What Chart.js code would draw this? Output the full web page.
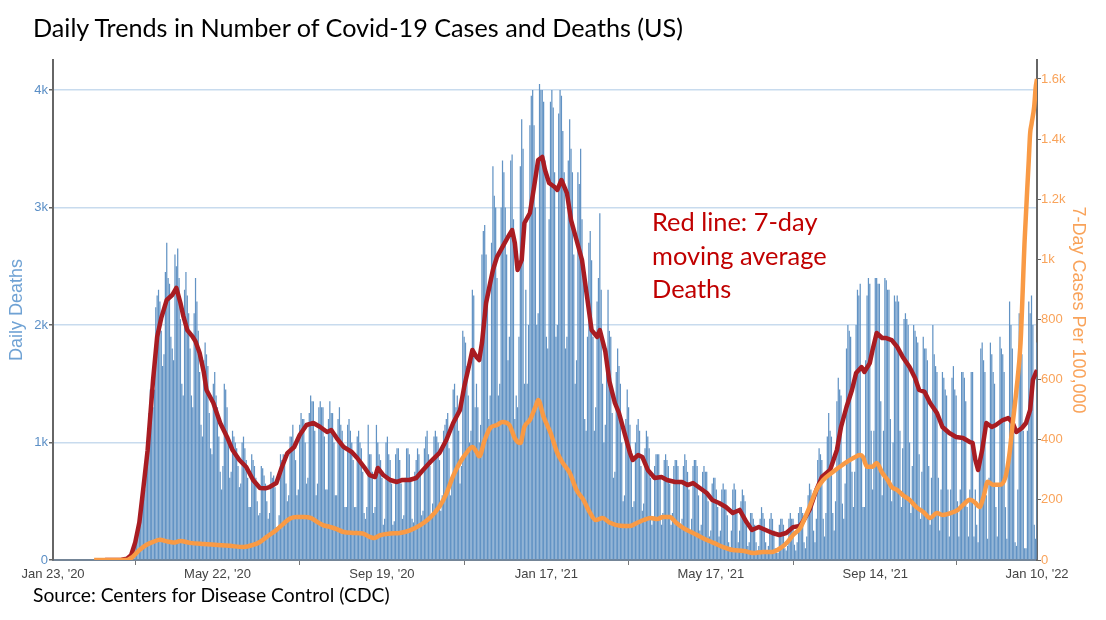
<!DOCTYPE html>
<html>
<head>
<meta charset="utf-8">
<script src="https://cdn.jsdelivr.net/npm/chart.js@4.4.1/dist/chart.umd.min.js"></script>
<style>
  body { margin: 0; background: #fff; }
  #wrap { position: relative; width: 1106px; height: 620px; }
  canvas { position: absolute; left: 0; top: 0; }
  .txt { position: absolute; font-family: Lato, 'Open Sans', sans-serif; white-space: nowrap; }
  #title { left: 33px; top: 12px; font-size: 25.2px; line-height: 30px; color: #000; }
  #note { left: 652px; top: 205px; font-size: 25.4px; line-height: 33.5px; color: #c00000; }
  #source { left: 33px; top: 583px; font-size: 19.3px; line-height: 24px; color: #000; }
</style>
</head>
<body>
<div id="wrap">
  <canvas id="chart" width="1106" height="620"></canvas>
  <div class="txt" id="title">Daily Trends in Number of Covid-19 Cases and Deaths (US)</div>
  <div class="txt" id="note">Red line: 7-day<br>moving average<br>Deaths</div>
  <div class="txt" id="source">Source: Centers for Disease Control (CDC)</div>
</div>
<script>
// --- Data ---
const START = '2020-01-23';
const tickDates = ['2020-01-23', '2020-05-22', '2020-09-19', '2021-01-17', '2021-05-17', '2021-09-14', '2022-01-10'];
const tickLabels = ["Jan 23, '20", "May 22, '20", "Sep 19, '20", "Jan 17, '21", "May 17, '21", "Sep 14, '21", "Jan 10, '22"];
const deathTicks = [0, 1000, 2000, 3000, 4000];
const caseTicks = [0, 200, 400, 600, 800, 1000, 1200, 1400, 1600];

// daily deaths, one row per week (Sun..Sat), first bar = Sun Mar 1 2020
const firstBarDate = '2020-03-01';
const dailyDeaths = [
  1, 1, 2, 3, 2, 3, 5,
  4, 6, 7, 9, 10, 14, 13,
  8, 12, 18, 25, 35, 55, 80,
  110, 140, 240, 290, 370, 440, 430,
  520, 600, 900, 1050, 1250, 1450, 1400,
  1300, 1450, 2150, 2250, 2300, 2200, 1950,
  1650, 1750, 2450, 2700, 2400, 2350, 1900,
  1800, 1700, 2600, 2500, 2650, 2400, 2050,
  1500, 1400, 2300, 2450, 2250, 2100, 1800,
  1400, 1300, 2100, 2400, 2200, 1950, 1600,
  1150, 1050, 1700, 1850, 1750, 1650, 1250,
  950, 900, 1500, 1600, 1400, 1300, 1050,
  750, 600, 800, 1500, 1450, 1300, 1000,
  700, 750, 1100, 1050, 1000, 950, 800,
  620, 650, 1000, 1050, 950, 850, 700,
  450, 450, 900, 850, 800, 700, 500,
  380, 400, 800, 780, 720, 650, 500,
  350, 400, 750, 700, 720, 620, 280,
  250, 380, 900, 850, 900, 850, 650,
  500, 550, 1050, 1050, 1150, 1000, 850,
  550, 600, 1150, 1250, 1200, 1200, 1000,
  650, 700, 1250, 1400, 1350, 1350, 1100,
  550, 650, 1300, 1350, 1300, 1300, 1050,
  600, 600, 1200, 1350, 1250, 1250, 1000,
  550, 550, 1200, 1300, 1150, 1100, 950,
  450, 450, 1150, 1200, 1100, 1000, 850,
  450, 450, 1050, 1100, 1000, 950, 750,
  400, 350, 450, 1150, 900, 900, 750,
  400, 450, 1150, 1000, 900, 850, 700,
  300, 350, 1000, 1050, 900, 850, 650,
  300, 330, 900, 950, 950, 850, 650,
  350, 380, 700, 950, 950, 900, 700,
  350, 320, 750, 850, 950, 900, 750,
  380, 420, 950, 1050, 1100, 900, 800,
  380, 480, 1050, 1100, 1050, 1000, 850,
  420, 550, 1100, 1150, 1200, 1250, 950,
  550, 700, 1450, 1500, 1300, 1400, 1100,
  650, 800, 1950, 1900, 1850, 1650, 1400,
  1000, 1100, 2300, 2250, 1300, 1500, 1300,
  1000, 1150, 2600, 2800, 2850, 2600, 2300,
  1200, 1400, 2700, 3350, 3100, 3000, 2400,
  1400, 1500, 3000, 3400, 3300, 3000, 2600,
  1700, 1900, 3400, 3450, 2900, 1200, 1400,
  1300, 1900, 3350, 3750, 3500, 1500, 2300,
  1500, 2000, 3700, 3950, 4000, 3700, 3000,
  2000, 2100, 4050, 4000, 4000, 3900, 3400,
  1900, 1800, 2900, 3900, 4000, 3850, 3300,
  1900, 2000, 3800, 4000, 3950, 3650, 3300,
  1800, 1900, 3400, 3750, 3500, 3300, 2600,
  1500, 1700, 3300, 3200, 3500, 2900, 2400,
  1200, 1100, 1900, 2700, 2800, 2550, 1900,
  1100, 1300, 2200, 2400, 2950, 2300, 1500,
  1000, 1150, 1800, 2300, 1950, 1900, 1250,
  700, 750, 1600, 1800, 1650, 1500, 1000,
  500, 550, 1200, 1450, 1300, 1150, 850,
  450, 500, 1000, 1150, 1200, 1100, 800,
  420, 480, 950, 1100, 1050, 950, 700,
  300, 350, 800, 900, 900, 900, 700,
  300, 400, 850, 900, 850, 800, 650,
  300, 400, 800, 850, 850, 800, 650,
  280, 350, 800, 900, 850, 750, 600,
  250, 350, 800, 850, 850, 800, 550,
  250, 300, 750, 800, 750, 750, 500,
  200, 250, 650, 700, 700, 600, 450,
  200, 250, 600, 650, 600, 600, 380,
  150, 100, 250, 600, 650, 600, 400,
  150, 250, 500, 600, 550, 500, 300,
  120, 150, 400, 400, 350, 300, 150,
  80, 120, 350, 450, 400, 350, 150,
  80, 120, 350, 400, 350, 250, 100,
  60, 60, 300, 350, 350, 300, 100,
  80, 120, 350, 400, 350, 350, 130,
  80, 150, 400, 450, 450, 400, 150,
  100, 200, 550, 650, 600, 550, 250,
  150, 350, 850, 950, 900, 850, 350,
  200, 400, 1050, 1250, 1100, 1050, 400,
  250, 500, 1350, 1550, 1450, 1400, 480,
  350, 650, 1800, 2000, 1950, 1900, 750,
  450, 750, 2000, 2300, 2250, 2350, 900,
  450, 450, 1700, 2250, 2400, 2350, 1100,
  600, 1100, 2400, 2400, 2350, 2350, 1350,
  550, 1100, 2400, 2380, 2300, 2300, 1200,
  500, 1000, 2250, 2200, 2250, 2200, 1100,
  450, 950, 2050, 2100, 2050, 2000, 1000,
  400, 800, 2000, 1950, 1900, 1850, 900,
  350, 750, 1900, 1800, 1800, 1700, 800,
  300, 700, 2000, 1750, 1650, 1600, 700,
  250, 600, 1600, 1550, 1450, 1400, 600,
  200, 600, 1550, 1650, 1450, 1400, 500,
  200, 600, 1600, 1600, 1550, 1350, 450,
  200, 600, 1600, 1600, 200, 600, 300,
  150, 800, 1800, 1850, 1700, 1600, 550,
  180, 700, 1850, 1750, 1600, 1500, 450,
  200, 650, 1900, 1800, 1750, 1600, 450,
  180, 750, 2200, 2000, 1800, 1150, 150,
  120, 600, 2100, 1900, 1750, 1100, 100,
  100, 1100, 2200, 2100, 2250, 2000, 300,
  180, 1850,
];

// 7-day moving average of deaths (days since Jan 23, 2020)
const avgDays = [
  38, 50, 54, 57, 60, 63, 66, 69, 73, 76,
  79, 83, 87, 90, 93, 95, 98, 102, 104, 107,
  110, 112, 117, 122, 127, 131, 136, 141, 146, 151,
  155, 158, 163, 167, 171, 176, 180, 185, 190, 195,
  200, 203, 207, 212, 218, 222, 227, 231, 235, 237,
  241, 246, 251, 255, 260, 265, 270, 275, 282, 287,
  292, 297, 300, 304, 306, 309, 311, 313, 316, 319,
  321, 324, 328, 332, 335, 337, 339, 342, 344, 348,
  351, 354, 357, 359, 362, 366, 368, 371, 375, 378,
  382, 386, 389, 393, 397, 399, 403, 406, 410, 413,
  417, 421, 423, 427, 430, 434, 439, 444, 448, 454,
  459, 463, 467, 472, 477, 481, 486, 491, 496, 501,
  506, 510, 515, 520, 525, 530, 535, 540, 545, 547,
  552, 557, 561, 567, 572, 575, 579, 583, 586, 590,
  592, 596, 598, 601, 605, 608, 612, 616, 620, 625,
  629, 632, 636, 640, 645, 649, 654, 659, 664, 669,
  671, 673, 675, 678, 681, 685, 688, 693, 697, 700,
  703, 707, 710, 713, 715, 718,
];
const avgDeaths = [
  0, 2, 10, 40, 150, 320, 620, 930, 1530, 1900,
  2060, 2213, 2255, 2315, 2187, 2080, 1957, 1898, 1860, 1762,
  1600, 1447, 1336, 1166, 1047, 936, 851, 791, 681, 613,
  610, 621, 655, 791, 910, 962, 1064, 1149, 1166, 1132,
  1089, 1106, 1038, 962, 919, 868, 791, 723, 706, 783,
  723, 681, 664, 681, 681, 698, 766, 830, 911, 1021,
  1166, 1277, 1472, 1676, 1787, 1728, 1702, 1847, 2187, 2357,
  2468, 2579, 2664, 2749, 2808, 2698, 2468, 2553, 2868, 2953,
  3174, 3404, 3430, 3319, 3208, 3174, 3149, 3234, 3123, 2893,
  2723, 2553, 2298, 1957, 1898, 1957, 1775, 1520, 1336, 1251,
  1081, 911, 851, 894, 877, 766, 698, 706, 681, 664,
  664, 638, 655, 613, 570, 511, 485, 451, 400, 426,
  323, 255, 281, 255, 230, 213, 230, 280, 290, 323,
  426, 596, 706, 766, 936, 1132, 1302, 1447, 1591, 1642,
  1600, 1676, 1787, 1932, 1889, 1889, 1872, 1813, 1728, 1642,
  1549, 1447, 1430, 1336, 1251, 1132, 1081, 1047, 1038, 1004,
  996, 851, 766, 936, 1166, 1132, 1149, 1191, 1208, 1174,
  1089, 1123, 1166, 1277, 1532, 1617,
];

// 7-day cases per 100,000 (days since Jan 23, 2020)
const caseDays = [
  30, 54, 58, 63, 68, 73, 78, 83, 88, 93,
  100, 110, 120, 129, 139, 146, 151, 156, 163, 168,
  173, 178, 183, 188, 193, 197, 202, 207, 212, 219,
  226, 231, 234, 239, 246, 253, 260, 268, 275, 282,
  287, 292, 297, 302, 306, 309, 311, 315, 319, 324,
  328, 333, 337, 341, 344, 348, 352, 354, 358, 363,
  368, 372, 377, 382, 387, 392, 396, 401, 406, 414,
  421, 426, 431, 436, 441, 445, 450, 455, 460, 467,
  474, 482, 489, 496, 504, 511, 518, 525, 531, 536,
  540, 545, 547, 552, 557, 562, 569, 576, 584, 589,
  591, 594, 598, 601, 605, 609, 612, 616, 620, 625,
  630, 635, 640, 645, 649, 655, 660, 664, 669, 673,
  676, 679, 682, 686, 691, 695, 698, 700, 703, 706,
  709, 712, 713, 714, 716, 717, 718,
];
const casesPer100k = [
  0, 0, 10, 33, 50, 60, 67, 62, 58, 63,
  57, 53, 50, 47, 43, 50, 60, 77, 100, 120,
  138, 143, 143, 140, 126, 116, 110, 103, 93, 90,
  88, 77, 73, 83, 88, 90, 98, 116, 140, 178,
  220, 280, 325, 358, 376, 360, 345, 399, 439, 449,
  459, 449, 405, 389, 443, 466, 509, 532, 476, 423,
  356, 323, 290, 233, 200, 156, 133, 140, 125, 114,
  113, 123, 133, 140, 136, 143, 143, 123, 106, 90,
  73, 57, 43, 33, 30, 23, 27, 27, 40, 60,
  83, 105, 123, 176, 233, 266, 293, 316, 339, 349,
  343, 310, 310, 323, 290, 266, 243, 233, 216, 200,
  176, 160, 140, 156, 150, 156, 166, 183, 200, 190,
  176, 210, 260, 250, 250, 276, 356, 443, 566, 722,
  1065, 1330, 1420, 1450, 1510, 1570, 1600,
];

// --- Helpers ---
function dayIndex(dateStr) {
  return Math.round((Date.parse(dateStr) - Date.parse(START)) / 86400000);
}

const tickDays = tickDates.map(dayIndex);
const firstBar = dayIndex(firstBarDate);
const FONT = "'Liberation Sans', Arial, sans-serif";

function kLabel(v) {
  if (v === 0) return '0';
  return v >= 1000 ? (v / 1000) + 'k' : String(v);
}

// --- Chart ---
new Chart(document.getElementById('chart'), {
  type: 'bar',
  data: {
    datasets: [
      {
        type: 'line',
        label: '7-Day Cases Per 100,000',
        data: caseDays.map((d, i) => ({ x: d, y: casesPer100k[i] })),
        yAxisID: 'y2',
        borderColor: '#f99a45',
        borderWidth: 4.5,
        pointRadius: 0,
        cubicInterpolationMode: 'monotone',
        borderJoinStyle: 'round',
        order: 1,
      },
      {
        type: 'line',
        label: 'Deaths, 7-day average',
        data: avgDays.map((d, i) => ({ x: d, y: avgDeaths[i] })),
        yAxisID: 'y',
        borderColor: '#a81c22',
        borderWidth: 4.5,
        pointRadius: 0,
        tension: 0,
        borderJoinStyle: 'round',
        order: 2,
      },
      {
        type: 'bar',
        label: 'Daily Deaths',
        data: dailyDeaths.map((v, i) => ({ x: firstBar + i, y: v })),
        yAxisID: 'y',
        backgroundColor: 'rgb(98,147,196)',
        barPercentage: 0.9,
        categoryPercentage: 1,
        order: 3,
      },
    ],
  },
  options: {
    responsive: false,
    animation: false,
    layout: { padding: { top: 60, left: 0, right: 0, bottom: 0 } },
    plugins: { legend: { display: false }, tooltip: { enabled: false } },
    scales: {
      x: {
        type: 'linear',
        min: 0,
        max: tickDays[tickDays.length - 1],
        offset: false,
        afterBuildTicks: (s) => { s.ticks = tickDays.map((v) => ({ value: v })); },
        afterFit: (s) => { s.height = 60; },
        ticks: {
          autoSkip: false,
          maxRotation: 0,
          color: '#444',
          padding: 2,
          font: { family: FONT, size: 13 },
          callback: (v) => tickLabels[tickDays.indexOf(v)],
        },
        grid: { drawOnChartArea: false, tickLength: 5, tickColor: '#777' },
        border: { color: '#748597', width: 2 },
      },
      y: {
        position: 'left',
        min: 0,
        max: 4255,
        afterBuildTicks: (s) => { s.ticks = deathTicks.map((v) => ({ value: v })); },
        afterFit: (s) => { s.width = 53; },
        ticks: {
          color: '#5b8fc6',
          padding: 1,
          font: { family: FONT, size: 13 },
          callback: kLabel,
        },
        grid: {
          color: (ctx) => (ctx.tick && ctx.tick.value === 0 ? 'rgba(0,0,0,0)' : '#c8dbee'),
          lineWidth: 1.5,
          tickLength: 4,
          tickColor: '#666',
        },
        border: { color: '#666', width: 2 },
        title: {
          display: true,
          text: 'Daily Deaths',
          color: '#6fa2d4',
          font: { family: FONT, size: 18 },
          padding: { top: 6, bottom: 0 },
        },
      },
      y2: {
        position: 'right',
        min: 0,
        max: 1663,
        afterBuildTicks: (s) => { s.ticks = caseTicks.map((v) => ({ value: v })); },
        afterFit: (s) => { s.width = 69; },
        ticks: {
          color: '#f9a35a',
          padding: 0,
          font: { family: FONT, size: 13 },
          callback: kLabel,
        },
        grid: { drawOnChartArea: false, tickLength: 4, tickColor: '#666' },
        border: { color: '#666', width: 2 },
        title: {
          display: true,
          text: '7-Day Cases Per 100,000',
          color: '#f9a35a',
          font: { family: FONT, size: 18 },
          padding: { top: 17, bottom: 0 },
        },
      },
    },
  },
});
</script>
</body>
</html>
